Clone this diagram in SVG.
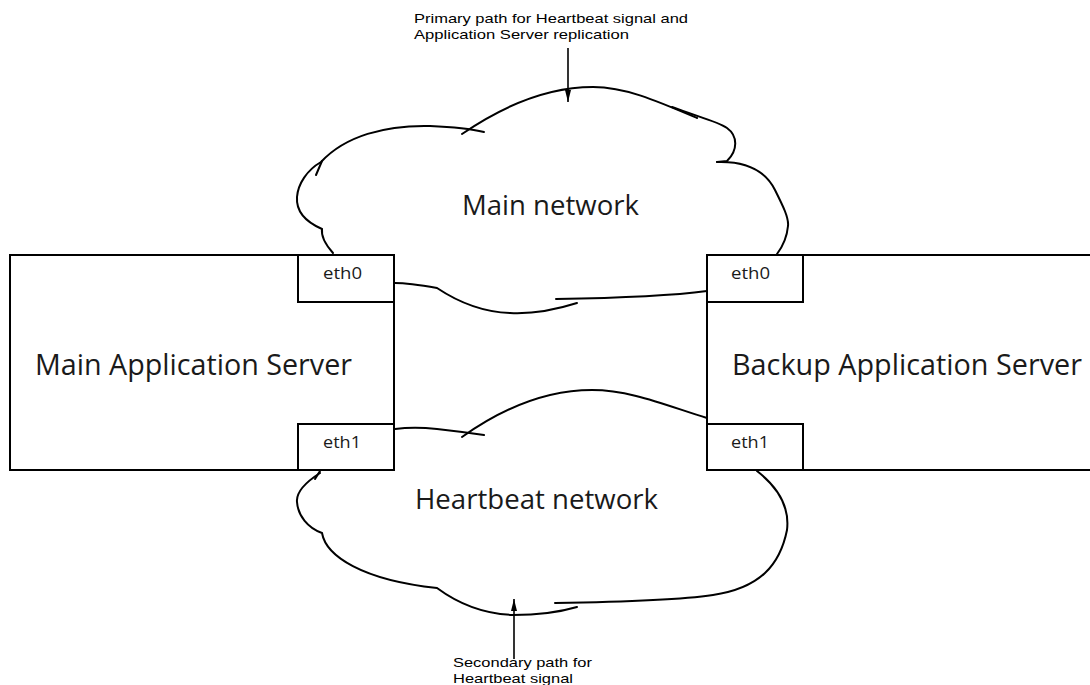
<svg xmlns="http://www.w3.org/2000/svg" width="1090" height="685" viewBox="0 0 1090 685">
<defs>
<style>
.box{fill:#fff;stroke:#000;stroke-width:2}
.cl{fill:none;stroke:#000;stroke-width:2;stroke-linecap:round}
.ar{fill:none;stroke:#000;stroke-width:1.6}
text{font-family:"Open Sans","Liberation Sans",sans-serif;fill:#1a1a1a}
.big{font-size:29px}
.net{font-size:27px}
.eth{font-size:16px}
.note{font-family:"Liberation Sans","Open Sans",sans-serif;font-size:13px;fill:#000}
</style>
<marker id="ah" viewBox="0 0 12 6" refX="12" refY="3" markerWidth="12" markerHeight="6" markerUnits="userSpaceOnUse" orient="auto">
<path d="M0,0 L12,3 L0,6 Z" fill="#000"/>
</marker>
</defs>
<rect width="1090" height="685" fill="#fff"/>

<g id="main-server">
<rect class="box" x="10" y="255" width="384" height="215"/>
<text class="big" x="35" y="375" textLength="317" lengthAdjust="spacingAndGlyphs">Main Application Server</text>
</g>
<g id="main-eth0">
<rect class="box" x="298" y="255" width="96" height="47"/>
<text class="eth" x="323" y="279" textLength="39" lengthAdjust="spacingAndGlyphs">eth0</text>
</g>
<g id="main-eth1">
<rect class="box" x="298" y="424" width="96" height="46"/>
<text class="eth" x="323" y="448" textLength="38" lengthAdjust="spacingAndGlyphs">eth1</text>
</g>

<g id="backup-server">
<rect class="box" x="707" y="255" width="400" height="215"/>
<text class="big" x="732" y="375" textLength="350" lengthAdjust="spacingAndGlyphs">Backup Application Server</text>
</g>
<g id="backup-eth0">
<rect class="box" x="707" y="255" width="96" height="47"/>
<text class="eth" x="731" y="279" textLength="39" lengthAdjust="spacingAndGlyphs">eth0</text>
</g>
<g id="backup-eth1">
<rect class="box" x="707" y="424" width="96" height="46"/>
<text class="eth" x="731" y="448" textLength="38" lengthAdjust="spacingAndGlyphs">eth1</text>
</g>

<g id="main-network">
<path class="cl" d="M333,253 C325,244 321,236 322,229 C306,222 296,211 297,197 C298,184 307,170 321,162 C345,136 385,125 430,126 C455,127 472,129 484,132"/>
<path class="cl" d="M316,175 L322,161"/>
<path class="cl" d="M462,134 C500,108 545,87 593,87 C625,87 655,100 697,118"/>
<path class="cl" d="M672,107 C695,116 717,121 727,128 C738,136 738,150 727,161 L717,162"/>
<path class="cl" d="M717,162 C745,161 765,170 775,190 C783,206 789,218 788,226 C787,237 783,246 777,254"/>
<path class="cl" d="M707,291 C670,296 620,298 556,299"/>
<path class="cl" d="M577,303 C555,310 530,314 510,313 C480,312 455,300 437,288 C420,285 405,283 395,283"/>
<text class="net" x="462" y="215" textLength="177" lengthAdjust="spacingAndGlyphs">Main network</text>
</g>

<g id="heartbeat-network">
<path class="cl" d="M395,429 C410,427 428,428 437,429 C455,431 470,433 484,435"/>
<path class="cl" d="M462,437 C500,410 545,390 592,390 C630,390 665,405 707,418"/>
<path class="cl" d="M320,473 C306,482 296,492 297,502 C298,516 308,528 322,533 C326,556 362,580 437,588 C460,605 485,614 513,615 C540,615 560,612 577,607"/>
<path class="cl" d="M315,479 L320,471"/>
<path class="cl" d="M555,603 C620,602 680,600 713,595 C760,588 780,565 787,530 C790,505 775,485 757,471"/>
<text class="net" x="415" y="509" textLength="243" lengthAdjust="spacingAndGlyphs">Heartbeat network</text>
</g>

<g id="connectors">
<line class="ar" x1="568" y1="48" x2="568" y2="102" marker-end="url(#ah)"/>
<line class="ar" x1="514" y1="659" x2="514" y2="599" marker-end="url(#ah)"/>
</g>

<g id="labels">
<text class="note" x="414" y="23" textLength="274" lengthAdjust="spacingAndGlyphs">Primary path for Heartbeat signal and</text>
<text class="note" x="414" y="39" textLength="215" lengthAdjust="spacingAndGlyphs">Application Server replication</text>
<text class="note" x="453" y="667" textLength="139" lengthAdjust="spacingAndGlyphs">Secondary path for</text>
<text class="note" x="453" y="683" textLength="120" lengthAdjust="spacingAndGlyphs">Heartbeat signal</text>
</g>
</svg>
